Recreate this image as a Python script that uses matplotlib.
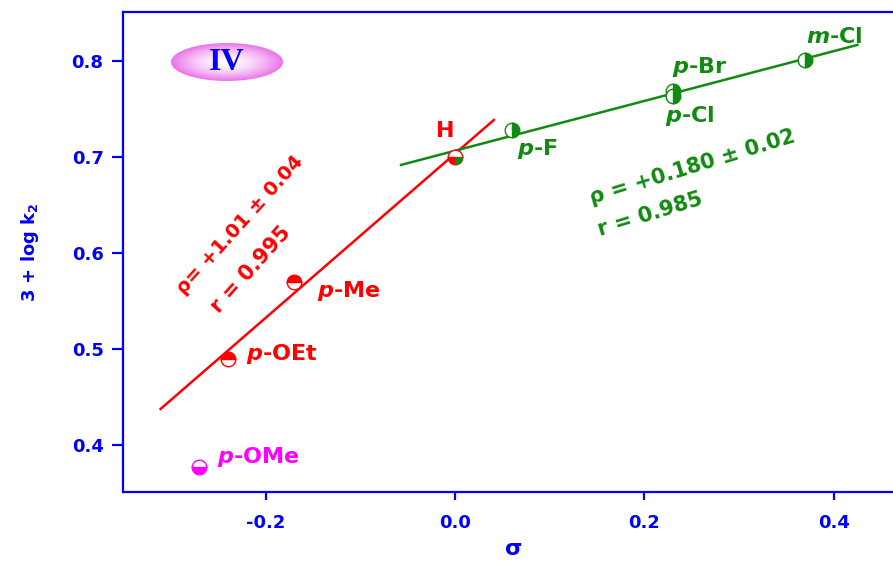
import numpy as np
import matplotlib
matplotlib.use("Agg")
import matplotlib.pyplot as plt
from matplotlib.path import Path
from matplotlib.patches import Ellipse

plt.rcParams['font.family'] = ['DejaVu Sans']
plt.rcParams['font.weight'] = 'bold'
plt.rcParams['mathtext.fontset'] = 'custom'
plt.rcParams['mathtext.it'] = 'DejaVu Sans:italic:bold'
plt.rcParams['mathtext.rm'] = 'DejaVu Sans:bold'
plt.rcParams['mathtext.bf'] = 'DejaVu Sans:bold'

# ---- data ----
substituents = ['p-OMe', 'p-OEt', 'p-Me', 'H', 'p-F', 'p-Br', 'p-Cl', 'm-Cl']
sigma = [-0.27, -0.24, -0.17, 0.00, 0.06, 0.23, 0.23, 0.37]
logk = [0.377, 0.490, 0.570, 0.700, 0.728, 0.769, 0.764, 0.801]

red_fit_x = [-0.311, 0.041]
red_fit_y = [0.4375, 0.7385]
green_fit_x = [-0.057, 0.425]
green_fit_y = [0.6917, 0.8167]

xticks = [-0.2, 0.0, 0.2, 0.4]
yticks = [0.4, 0.5, 0.6, 0.7, 0.8]

BLUE = '#0000ff'
RED = '#ff0000'
GREEN = '#118a11'
MAG = '#ff00ff'

W, H = 893, 563
fig = plt.figure(figsize=(W / 100, H / 100), dpi=100)
L, R, T, B = 123, 905, 12, 492
ax = fig.add_axes([L / W, (H - B) / H, (R - L) / W, (B - T) / H])
ax.set_xlim(-0.3507, 0.4753)
ax.set_ylim(0.351, 0.851)

for s in ax.spines.values():
    s.set_color(BLUE)
    s.set_linewidth(1.6)
ax.tick_params(colors=BLUE, width=1.6, direction='out', labelsize=13)
ax.tick_params(axis='x', length=6, pad=10)
ax.tick_params(axis='y', length=8, pad=6)
ax.set_xticks(xticks)
ax.set_xticklabels([f'{v:.1f}' for v in xticks], fontweight='bold', color=BLUE)
ax.set_yticks(yticks)
ax.set_yticklabels([f'{v:.1f}' for v in yticks], fontweight='bold', color=BLUE)
ax.set_xlabel('σ', color=BLUE, fontsize=16, fontweight='bold', labelpad=5)
ax.set_ylabel(r'3 + log k$_2$', color=BLUE, fontsize=13, fontweight='bold', labelpad=22)

# fit lines
ax.plot(red_fit_x, red_fit_y, color=RED, lw=1.8, zorder=2)
ax.plot(green_fit_x, green_fit_y, color=GREEN, lw=1.8, zorder=2)

ms = 10.5
styles = {
    'p-OMe': (MAG, 'bottom'),
    'p-OEt': (RED, 'top'),
    'p-Me': (RED, 'top'),
    'p-F': (GREEN, 'right'),
    'p-Br': (GREEN, 'right'),
    'p-Cl': (GREEN, 'right'),
    'm-Cl': (GREEN, 'right'),
}
for name, xv, yv in zip(substituents, sigma, logk):
    if name == 'H':
        ax.plot([xv], [yv], marker='o', ms=ms, color=RED, mfc=RED, mfcalt='white',
                fillstyle='bottom', mew=1.0, zorder=3)
        quarter = Path([(0, 0), (1, 0)] + [(np.cos(t), np.sin(t)) for t in np.linspace(0, -np.pi / 2, 12)] + [(0, 0)])
        ax.plot([xv], [yv], marker=quarter, ms=ms * 0.98, color=GREEN, mec=GREEN, mew=0.5, zorder=4)
    else:
        c, fs = styles[name]
        ax.plot([xv], [yv], marker='o', ms=ms, color=c, mfc=c, mfcalt='white',
                fillstyle=fs, mew=1.0, zorder=3)

# point labels (left x, baseline y)
label_x = [-0.2514, -0.2208, -0.1458, -0.0200, 0.0655, 0.2292, 0.2218, 0.3708]
label_y = [0.3812, 0.4885, 0.5542, 0.7211, 0.7021, 0.7875, 0.7368, 0.8184]
label_color = [MAG, RED, RED, RED, GREEN, GREEN, GREEN, GREEN]
for name, lx, ly, c in zip(substituents, label_x, label_y, label_color):
    if '-' in name:
        pre, rest = name.split('-', 1)
        txt = f'${pre}$-' + rest
    else:
        txt = name
    ax.text(lx, ly, txt, color=c, fontsize=16, fontweight='bold',
            ha='left', va='baseline', zorder=5)

ax.text(-0.2271, 0.6292, 'ρ= +1.01 ± 0.04', color=RED, fontsize=14, fontweight='bold',
        rotation=48, rotation_mode='anchor', ha='center', va='center')
ax.text(-0.2155, 0.5828, 'r = 0.995', color=RED, fontsize=15, fontweight='bold',
        rotation=48, rotation_mode='anchor', ha='center', va='center')
ax.text(0.2503, 0.6896, 'ρ = +0.180 ± 0.02', color=GREEN, fontsize=15, fontweight='bold',
        rotation=17, rotation_mode='anchor', ha='center', va='center')
ax.text(0.2060, 0.6406, 'r = 0.985', color=GREEN, fontsize=15, fontweight='bold',
        rotation=17, rotation_mode='anchor', ha='center', va='center')

# "IV" badge
cx, cy, ew, eh = 227, 62, 112, 38
bax = fig.add_axes([(cx - ew / 2) / W, (H - cy - eh / 2) / H, ew / W, eh / H])
bax.set_xlim(-1, 1)
bax.set_ylim(-1, 1)
bax.axis('off')
gx, gy = np.meshgrid(np.linspace(-1, 1, 200), np.linspace(-1, 1, 80))
rr = np.clip(np.sqrt(gx ** 2 + gy ** 2), 0, 1)
c0 = np.array([1.0, 1.0, 1.0])
c1 = np.array([0.92, 0.45, 0.92])
img = c0[None, None, :] * (1 - rr[..., None] ** 1.6) + c1[None, None, :] * (rr[..., None] ** 1.6)
im = bax.imshow(img, extent=[-1, 1, -1, 1], aspect='auto')
ell = Ellipse((0, 0), 2, 2, transform=bax.transData, facecolor='none', edgecolor='none')
bax.add_patch(ell)
im.set_clip_path(ell)
bax.text(0, -0.05, 'IV', color=BLUE, fontsize=23, fontweight='bold', family='Liberation Serif',
         ha='center', va='center')

fig.savefig('out.png', dpi=100)
